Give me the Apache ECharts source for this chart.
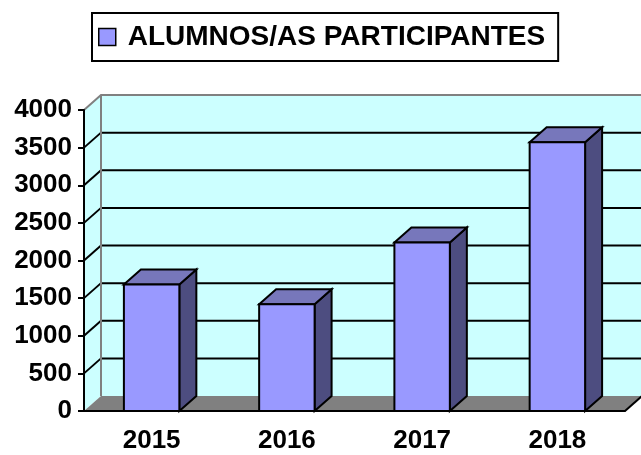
<!DOCTYPE html>
<html style="height: 100%">
<head>
<meta charset="utf-8">
</head>
<body style="height: 100%; margin: 0; background: #fff">
<div id="container" style="width: 641px; height: 455px"></div>
<script type="text/javascript" src="https://cdn.jsdelivr.net/npm/echarts@6/dist/echarts.min.js"></script>
<script type="text/javascript">
// data
var categories = ['2015', '2016', '2017', '2018'];
var values = [1680, 1420, 2240, 3570];
var yTicks = [0, 500, 1000, 1500, 2000, 2500, 3000, 3500, 4000];
var seriesName = 'ALUMNOS/AS PARTICIPANTES';

// depth of the fake 3d box (pixels)
var DX = 17, DY = -15;
var FONT = "'Liberation Sans', Arial, sans-serif";

var dom = document.getElementById('container');
var myChart = echarts.init(dom);

function renderWalls(params, api) {
    var cs = params.coordSys;
    var x0 = cs.x, x1 = cs.x + cs.width;
    var yTop = cs.y, yBot = cs.y + cs.height;
    var far = 700;
    var kids = [];
    // back wall + left wall
    kids.push({type: 'rect', shape: {x: x0 + DX, y: yTop + DY, width: far - x0, height: cs.height},
        style: {fill: '#CCFFFF'}});
    kids.push({type: 'polygon', shape: {points: [[x0, yBot], [x0 + DX, yBot + DY], [x0 + DX, yTop + DY], [x0, yTop]]},
        style: {fill: '#CCFFFF'}});
    // grid lines
    for (var i = 1; i < yTicks.length - 1; i++) {
        var y = api.coord([0, yTicks[i]])[1];
        kids.push({type: 'line', shape: {x1: x0 + DX, y1: y + DY, x2: far, y2: y + DY},
            style: {stroke: '#000', lineWidth: 2}});
        kids.push({type: 'line', shape: {x1: x0, y1: y, x2: x0 + DX, y2: y + DY},
            style: {stroke: '#000', lineWidth: 2}});
    }
    // gray edges of the walls
    kids.push({type: 'polyline', shape: {points: [[x0, yTop], [x0 + DX, yTop + DY], [far, yTop + DY]]},
        style: {stroke: '#808080', lineWidth: 2, fill: null}});
    kids.push({type: 'line', shape: {x1: x0 + DX, y1: yTop + DY, x2: x0 + DX, y2: yBot + DY},
        style: {stroke: '#808080', lineWidth: 2}});
    // floor
    kids.push({type: 'polygon', shape: {points: [[x0, yBot], [x1, yBot], [x1 + DX, yBot + DY], [x0 + DX, yBot + DY]]},
        style: {fill: '#808080'}});
    kids.push({type: 'line', shape: {x1: x1, y1: yBot, x2: x1 + DX, y2: yBot + DY},
        style: {stroke: '#000', lineWidth: 2}});
    return {type: 'group', children: kids};
}

function renderBar(params, api) {
    var idx = api.value(0);
    var top = api.coord([idx, api.value(1)]);
    var base = api.coord([idx, 0]);
    var w = api.size([1, 0])[0] * 0.41;
    var xl = top[0] - w / 2, xr = top[0] + w / 2;
    var yt = top[1], yb = base[1];
    var line = {stroke: '#000', lineWidth: 2, lineJoin: 'miter'};
    return {
        type: 'group',
        children: [
            {type: 'polygon', shape: {points: [[xr, yb], [xr + DX, yb + DY], [xr + DX, yt + DY], [xr, yt]]},
                style: Object.assign({fill: '#4D4D80'}, line)},
            {type: 'polygon', shape: {points: [[xl, yt], [xl + DX, yt + DY], [xr + DX, yt + DY], [xr, yt]]},
                style: Object.assign({fill: '#7777BB'}, line)},
            {type: 'rect', shape: {x: xl, y: yt, width: w, height: yb - yt},
                style: Object.assign({fill: '#9999FF'}, line)}
        ]
    };
}

var option = {
    animation: false,
    legend: {
        data: [seriesName],
        left: 92,
        top: 13,
        padding: [10, 13, 10, 6],
        borderColor: '#000',
        borderWidth: 2,
        icon: 'rect',
        itemWidth: 17,
        itemHeight: 17,
        itemStyle: {borderColor: '#000', borderWidth: 1.5},
        textStyle: {fontSize: 28, fontWeight: 'bold', fontFamily: FONT, color: '#000',
            lineHeight: 27, padding: [0, 0, 0, 7]}
    },
    grid: {left: 84, right: 16, top: 110, bottom: 44},
    xAxis: {
        type: 'category',
        data: categories,
        z: 10,
        axisLine: {lineStyle: {color: '#000', width: 2}},
        axisTick: {length: 7, lineStyle: {color: '#000', width: 2}},
        axisLabel: {fontSize: 26, fontWeight: 'bold', fontFamily: FONT, color: '#000', margin: 17}
    },
    yAxis: {
        type: 'value',
        min: 0,
        max: 4000,
        interval: 500,
        z: 10,
        axisLine: {show: true, lineStyle: {color: '#000', width: 2}},
        axisTick: {show: true, length: 6, lineStyle: {color: '#000', width: 2}},
        splitLine: {show: false},
        axisLabel: {fontSize: 26, fontWeight: 'bold', fontFamily: FONT, color: '#000', margin: 12,
            formatter: function (v) { return String(v); }}
    },
    series: [{
        name: 'walls',
        type: 'custom',
        silent: true,
        z: 1,
        renderItem: renderWalls,
        data: [[0, 0]]
    }, {
        name: seriesName,
        type: 'custom',
        z: 3,
        itemStyle: {color: '#9999FF'},
        renderItem: renderBar,
        encode: {x: 0, y: 1},
        data: values.map(function (v, i) { return [i, v]; })
    }]
};

myChart.setOption(option);
</script>
</body>
</html>
